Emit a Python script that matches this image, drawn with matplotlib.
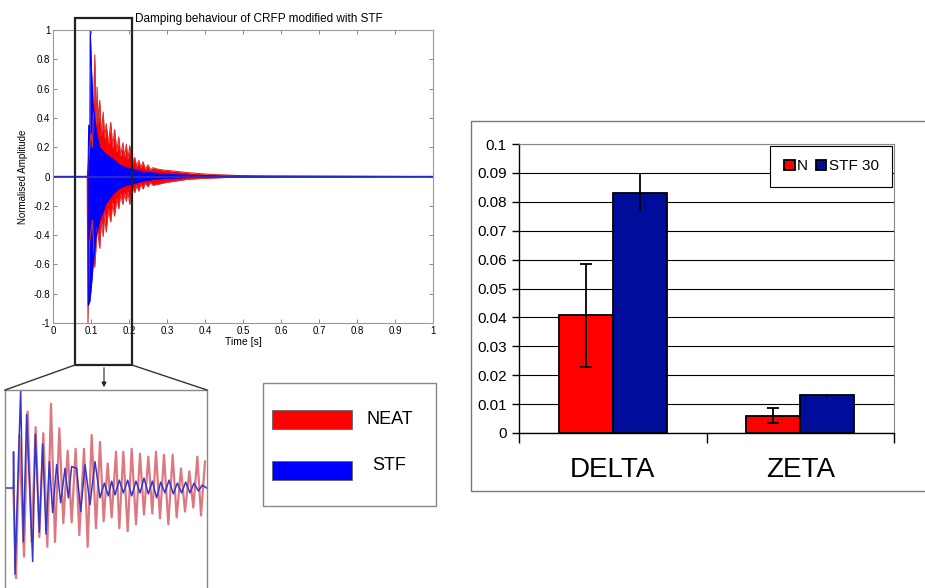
import numpy as np
import matplotlib
matplotlib.use('Agg')
import matplotlib.pyplot as plt
from matplotlib.patches import Rectangle

# ---------------- данные: затухание сигнала (огибающие, основной график) ----------------
neat_up_t = [0.0, 0.090, 0.100, 0.104, 0.110, 0.113, 0.116, 0.119, 0.123, 0.127, 0.132, 0.136,
             0.140, 0.146, 0.152, 0.157, 0.162, 0.168, 0.173, 0.178, 0.184, 0.188, 0.193, 0.197,
             0.202, 0.208, 0.215, 0.220, 0.226, 0.231, 0.237, 0.243, 0.250, 0.256, 0.263, 0.276,
             0.289, 0.307, 0.325, 0.342, 0.360, 0.386, 0.410, 0.456, 0.490, 0.550, 1.0]
neat_up_v = [0.0, 0.0, 0.30, 0.20, 0.83, 0.35, 0.61, 0.36, 0.52, 0.28, 0.44, 0.26,
             0.36, 0.22, 0.37, 0.20, 0.32, 0.17, 0.27, 0.14, 0.23, 0.13, 0.22, 0.12,
             0.21, 0.09, 0.13, 0.07, 0.11, 0.06, 0.10, 0.05, 0.08, 0.045, 0.06, 0.05,
             0.045, 0.04, 0.035, 0.03, 0.025, 0.02, 0.015, 0.01, 0.006, 0.003, 0.0]
neat_lo_t = [0.0, 0.090, 0.092, 0.096, 0.104, 0.110, 0.116, 0.123, 0.127, 0.132, 0.136,
             0.140, 0.146, 0.152, 0.157, 0.162, 0.168, 0.173, 0.178, 0.184, 0.188, 0.193,
             0.197, 0.202, 0.208, 0.215, 0.220, 0.226, 0.231, 0.237, 0.243, 0.250, 0.256,
             0.263, 0.281, 0.298, 0.325, 0.351, 0.386, 0.430, 0.474, 1.0]
neat_lo_v = [0.0, 0.0, -1.0, -0.45, -0.30, -0.62, -0.35, -0.49, -0.30, -0.41, -0.25,
             -0.38, -0.22, -0.31, -0.18, -0.27, -0.15, -0.22, -0.12, -0.19, -0.11, -0.17,
             -0.10, -0.19, -0.07, -0.11, -0.06, -0.10, -0.05, -0.085, -0.045, -0.07, -0.04,
             -0.06, -0.05, -0.04, -0.03, -0.02, -0.014, -0.009, -0.005, 0.0]

stf_up_t = [0.0, 0.092, 0.094, 0.097, 0.098, 0.101, 0.105, 0.110, 0.114, 0.123, 0.140, 0.158,
            0.175, 0.193, 0.211, 0.237, 0.263, 0.298, 0.342, 0.386, 0.430, 1.0]
stf_up_v = [0.0, 0.0, 0.35, 0.30, 1.0, 0.75, 0.50, 0.40, 0.30, 0.20, 0.15, 0.12,
            0.08, 0.06, 0.05, 0.03, 0.025, 0.015, 0.01, 0.006, 0.003, 0.0]
stf_lo_t = [0.0, 0.092, 0.093, 0.097, 0.101, 0.105, 0.110, 0.114, 0.123, 0.140, 0.158,
            0.175, 0.193, 0.211, 0.237, 0.263, 0.298, 0.342, 0.386, 1.0]
stf_lo_v = [0.0, 0.0, -0.88, -0.85, -0.75, -0.62, -0.50, -0.40, -0.30, -0.18, -0.12,
            -0.08, -0.06, -0.05, -0.03, -0.02, -0.012, -0.008, -0.004, 0.0]

# ---------------- данные: увеличенный фрагмент (мс) ----------------
zoom_neat_t = [6.25, 8.25, 10.75, 14.25, 17.0, 20.0, 23.0, 25.75, 28.75, 31.75, 34.5, 37.5,
               40.75, 43.75, 47.0, 50.0, 53.0, 55.75, 59.25, 62.0, 65.0, 68.25, 71.25, 74.0,
               77.0, 80.0, 83.25, 85.75, 88.75, 92.0, 95.0, 98.25, 101.25, 104.25, 107.5,
               110.5, 113.25, 116.25, 119.25, 122.5, 125.75, 128.75, 132.0, 135.0, 138.25,
               141.25, 144.25, 147.0, 150.0]
zoom_neat_v = [0.0, -0.92, 0.54, -0.70, 0.78, -0.55, 0.62, -0.50, 0.56, -0.60, 0.86, -0.55,
               0.61, -0.36, 0.38, -0.35, 0.40, -0.48, 0.40, -0.60, 0.54, -0.41, 0.47, -0.34,
               0.25, -0.30, 0.37, -0.41, 0.37, -0.44, 0.40, -0.37, 0.35, -0.27, 0.32,
               -0.26, 0.37, -0.31, 0.34, -0.37, 0.34, -0.30, 0.20, -0.24, 0.17,
               -0.20, 0.32, -0.28, 0.27]
zoom_stf_t = [0.0, 6.25, 6.4, 7.5, 11.75, 13.75, 16.25, 20.75, 22.75, 25.75, 28.25, 30.75,
              33.25, 35.75, 38.75, 41.75, 45.0, 47.5, 50.0, 53.75, 56.75, 60.0, 63.75, 67.5,
              71.25, 74.5, 77.5, 80.0, 82.5, 85.75, 88.75, 92.0, 95.0, 98.25, 101.25, 104.25,
              107.5, 110.5, 113.75, 116.75, 120.0, 123.0, 126.25, 129.25, 132.5, 135.5,
              138.75, 141.75, 145.0, 148.0, 151.25]
zoom_stf_v = [0.0, 0.0, 0.37, -0.88, 1.0, -0.55, 0.75, -0.75, 0.55, -0.45, 0.45, -0.47,
              0.27, -0.25, 0.24, -0.15, 0.20, -0.10, 0.22, 0.20, -0.24, 0.24, -0.17, 0.27,
              -0.10, 0.05, -0.08, 0.07, -0.07, 0.08, -0.05, 0.08, -0.08, 0.07, -0.05, 0.10,
              -0.06, 0.07, -0.10, 0.06, -0.05, 0.08, -0.06, 0.05, -0.05, 0.06,
              -0.05, 0.05, -0.03, 0.03, 0.0]

series_names = ['NEAT', 'STF']

# ---------------- данные: столбчатая диаграмма ----------------
categories = ['DELTA', 'ZETA']
bar_labels = ['N', 'STF 30']
n_values = [0.0407, 0.0060]
n_errors = [0.0178, 0.0026]
stf_values = [0.0830, 0.0130]
stf_errors = [0.0065, 0.0005]

narrow = ['Liberation Sans Narrow', 'Liberation Sans', 'DejaVu Sans']
arial = ['Liberation Sans', 'DejaVu Sans']

W, H = 925, 588
fig = plt.figure(figsize=(W / 100, H / 100), dpi=100)
fig.patch.set_facecolor('white')


def px_axes(x0, y0, x1, y1):
    # прямоугольник в пикселях -> оси
    return fig.add_axes([x0 / W, 1 - y1 / H, (x1 - x0) / W, (y1 - y0) / H])


# ---------------- основной график ----------------
ax = px_axes(53, 30, 433, 323)
ax.fill_between(neat_up_t, 0, neat_up_v, color='#ff0000', lw=0)
ax.fill_between(neat_lo_t, neat_lo_v, 0, color='#ff0000', lw=0)
ax.plot(neat_up_t, neat_up_v, color='#d83030', lw=0.8)
ax.plot(neat_lo_t, neat_lo_v, color='#d83030', lw=0.8)
ax.fill_between(stf_up_t, 0, stf_up_v, color='#0000ff', lw=0)
ax.fill_between(stf_lo_t, stf_lo_v, 0, color='#0000ff', lw=0)
ax.plot(stf_up_t, stf_up_v, color='#0000ff', lw=0.8)
ax.plot(stf_lo_t, stf_lo_v, color='#0000ff', lw=0.8)
ax.axhline(0, color='#3030c0', lw=1.2)
ax.set_xlim(0, 1)
ax.set_ylim(-1, 1)
ax.set_xticks(np.arange(0, 1.01, 0.1))
ax.set_xticklabels(['0', '0.1', '0.2', '0.3', '0.4', '0.5', '0.6', '0.7', '0.8', '0.9', '1'])
ax.set_yticks(np.arange(-1, 1.01, 0.2))
ax.set_yticklabels(['-1', '-0.8', '-0.6', '-0.4', '-0.2', '0', '0.2', '0.4', '0.6', '0.8', '1'])
ax.tick_params(direction='in', length=3, width=0.6, color='#777777', labelsize=7,
               top=True, right=True, pad=2)
for lab in ax.get_xticklabels() + ax.get_yticklabels():
    lab.set_family(narrow)
for spine in ax.spines.values():
    spine.set_color('#999999')
    spine.set_linewidth(0.8)
ax.set_xlabel('Time [s]', fontsize=7.5, family=narrow, labelpad=1)
ax.set_ylabel('Normalised Amplitude', fontsize=7, family=arial, labelpad=4)

# ---------------- увеличенный фрагмент ----------------
axz = px_axes(5, 390, 207, 588)
axz.plot(zoom_neat_t, zoom_neat_v, color='#d8606a', lw=1.6, alpha=0.85)
axz.plot(zoom_stf_t, zoom_stf_v, color='#3535c8', lw=1.1)
axz.set_xlim(0, 151.5)
axz.set_ylim(-1.02, 1.0)
axz.set_xticks([])
axz.set_yticks([])
for spine in axz.spines.values():
    spine.set_color('#888888')
    spine.set_linewidth(1.0)
axz.spines['bottom'].set_visible(False)

# ---------------- столбчатая диаграмма ----------------
axb = px_axes(519, 144, 894, 433)
x = np.arange(len(categories))
bw = 0.288
axb.bar(x - bw / 2, n_values, bw, color='#ff0000', edgecolor='black', lw=1.3,
        label=bar_labels[0], zorder=3)
axb.bar(x + bw / 2, stf_values, bw, color='#000c9a', edgecolor='black', lw=1.3,
        label=bar_labels[1], zorder=3)
axb.errorbar(x - bw / 2, n_values, yerr=n_errors, fmt='none', ecolor='black',
             elinewidth=1.3, capsize=4, capthick=1.3, zorder=4)
axb.errorbar(x + bw / 2, stf_values, yerr=stf_errors, fmt='none', ecolor='black',
             elinewidth=1.3, capsize=0, zorder=4)
axb.set_xlim(-0.5, 1.5)
axb.set_ylim(0, 0.1)
axb.set_yticks(np.arange(0, 0.101, 0.01))
axb.set_yticklabels(['0', '0.01', '0.02', '0.03', '0.04', '0.05', '0.06', '0.07', '0.08',
                     '0.09', '0.1'])
axb.yaxis.grid(True, color='black', lw=0.8, zorder=0)
axb.set_axisbelow(True)
axb.tick_params(axis='y', direction='out', length=5, width=1, labelsize=11, pad=4)
axb.set_xticks(x)
axb.set_xticklabels(categories, fontsize=20)
axb.tick_params(axis='x', length=0, pad=17)
axb.set_xticks([-0.5, 0.5, 1.5], minor=True)
axb.tick_params(axis='x', which='minor', direction='out', length=7, width=1)
for lab in axb.get_xticklabels() + axb.get_yticklabels():
    lab.set_family(arial)
axb.spines['left'].set_color('black')
axb.spines['bottom'].set_color('black')
axb.spines['left'].set_linewidth(1.0)
axb.spines['bottom'].set_linewidth(1.0)
axb.spines['top'].set_color('#888888')
axb.spines['right'].set_color('#888888')
leg = axb.legend(loc='upper right', ncol=2, frameon=True, fancybox=False,
                 edgecolor='black', framealpha=1, borderaxespad=0.1,
                 handlelength=0.7, handleheight=0.7, handletextpad=0.15,
                 columnspacing=0.5, borderpad=0.9, prop={'family': arial, 'size': 11})
leg.get_frame().set_linewidth(0.8)

# ---------------- оформление: рамки, линии, легенда ----------------
ov = fig.add_axes([0, 0, 1, 1], zorder=10)
ov.set_xlim(0, W)
ov.set_ylim(H, 0)
ov.axis('off')
ov.patch.set_alpha(0)
ov.text(135, 19, 'Damping behaviour of CRFP modified with STF', fontsize=8.5,
        family=narrow, ha='left', va='center')
ov.add_patch(Rectangle((75, 18), 57, 347, fill=False, ec='#222222', lw=1.6))
ov.plot([75, 5], [365, 390], color='#333333', lw=1)
ov.plot([132, 207], [365, 390], color='#333333', lw=1)
ov.annotate('', xy=(104, 390), xytext=(104, 365),
            arrowprops=dict(arrowstyle='-|>', color='#222222', lw=0.8, mutation_scale=7))
# легенда к графику затухания
ov.add_patch(Rectangle((263, 383), 173, 123, fill=False, ec='#888888', lw=1))
ov.add_patch(Rectangle((272, 410), 80, 19, fc='#ff0000', ec='#666666', lw=0.6))
ov.add_patch(Rectangle((272, 461), 80, 19, fc='#0000ff', ec='#666666', lw=0.6))
ov.text(367, 420, series_names[0], fontsize=13, family=narrow, va='center', ha='left')
ov.text(372, 466, series_names[1], fontsize=13, family=narrow, va='center', ha='left')
# рамка вокруг столбчатой диаграммы
ov.add_patch(Rectangle((471, 121), 460, 370, fill=False, ec='#777777', lw=1))

fig.savefig('out.png', dpi=100)
